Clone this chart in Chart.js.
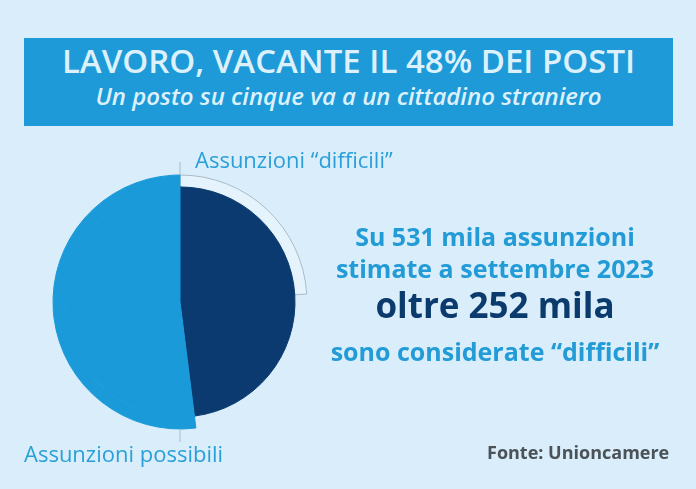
<!DOCTYPE html>
<html lang="it">
<head>
<meta charset="utf-8">
<title>Lavoro, vacante il 48% dei posti</title>
<script src="https://cdn.jsdelivr.net/npm/chart.js@4/dist/chart.umd.min.js"></script>
<style>
  html, body { margin: 0; padding: 0; }
  body {
    width: 696px; height: 489px; overflow: hidden; position: relative;
    background: #d9eefa; font-family: "Open Sans", sans-serif;
  }
  .banner {
    position: absolute; left: 24px; top: 38px; width: 649px; height: 88px;
    background: #1e9ad8; color: #dcf1fc; text-align: center;
  }
  .banner h1 { margin: 0; position: absolute; left: 0; right: 0; top: 3px; font-size: 33px; font-weight: 600; line-height: 40px; }
  .banner h2 { margin: 0; position: absolute; left: 0; right: 0; top: 43px; font-size: 24px; font-weight: 600; font-style: italic; line-height: 30px; }
  #pieWrap { position: absolute; left: 40px; top: 162px; width: 280px; height: 280px; }
  .label { position: absolute; color: #2b9fd8; font-size: 22px; font-weight: 400; white-space: nowrap; line-height: 30px; }
  .info { position: absolute; left: 315px; width: 360px; text-align: center; font-weight: 700; white-space: nowrap; }
  .info.blue { color: #229bd7; font-size: 25px; line-height: 30px; }
  .info.big { color: #0b3a6d; font-size: 35px; line-height: 40px; }
  .source { position: absolute; left: 487px; top: 439px; color: #4b5258; font-size: 18px; font-weight: 700; line-height: 26px; }
</style>
</head>
<body>
  <div class="banner">
    <h1>LAVORO, VACANTE IL 48% DEI POSTI</h1>
    <h2>Un posto su cinque va a un cittadino straniero</h2>
  </div>

  <div id="pieWrap"><canvas id="pie" width="280" height="280"></canvas></div>
  <div class="label" id="labelTop" style="left:195px; top:144px;"></div>
  <div class="label" id="labelBottom" style="left:24px; top:438px;"></div>

  <div class="info blue" style="top:221px;">Su 531 mila assunzioni</div>
  <div class="info blue" style="top:253px;">stimate a settembre 2023</div>
  <div class="info big" style="top:285px;">oltre 252 mila</div>
  <div class="info blue" style="top:336px;">sono considerate “difficili”</div>

  <div class="source">Fonte: Unioncamere</div>

<script>
  'use strict';

  // categories and their share of the 531k estimated hirings (%)
  const categories = ['Assunzioni “difficili”', 'Assunzioni possibili'];
  const shares = [48, 52];
  // the highlight bracket drawn around the "difficili" slice (% of circle)
  const bracketShare = 24;

  const colors = {
    difficult: '#0a3a70',
    possible: '#1b9ad9',
    bracketFill: '#e4f3fc',
    bracketLine: '#a9bbc6'
  };

  document.getElementById('labelTop').textContent = categories[0];
  document.getElementById('labelBottom').textContent = categories[1];

  // small leader lines from the pie edge to the two labels
  const leaderLines = {
    id: 'leaderLines',
    afterDatasetsDraw(chart) {
      const outer = chart.getDatasetMeta(0).data;
      if (!outer.length) return;
      const top = outer[0].getProps(['x', 'y', 'outerRadius', 'startAngle'], true);
      const ctx = chart.ctx;
      ctx.save();
      ctx.strokeStyle = colors.bracketLine;
      ctx.lineWidth = 1;
      const drawRadial = (angle, r0, r1) => {
        ctx.beginPath();
        ctx.moveTo(top.x + Math.cos(angle) * r0, top.y + Math.sin(angle) * r0);
        ctx.lineTo(top.x + Math.cos(angle) * r1, top.y + Math.sin(angle) * r1);
        ctx.stroke();
      };
      drawRadial(top.startAngle, top.outerRadius, top.outerRadius + 15);
      drawRadial(Math.PI / 2, top.outerRadius, top.outerRadius + 16);
      ctx.restore();
    }
  };

  new Chart(document.getElementById('pie').getContext('2d'), {
    type: 'pie',
    data: {
      labels: [categories[0], '', categories[1]],
      datasets: [
        {
          // outer band: bracket + the wider "possibili" slice
          data: [bracketShare, shares[0] - bracketShare, shares[1]],
          backgroundColor: [colors.bracketFill, 'rgba(0,0,0,0)', colors.possible],
          borderColor: [colors.bracketLine, 'rgba(0,0,0,0)', colors.possible],
          borderWidth: [1, 0, 1],
          weight: 12,
          order: 1
        },
        {
          data: shares,
          backgroundColor: [colors.difficult, colors.possible],
          borderColor: [colors.difficult, colors.possible],
          borderWidth: 1,
          weight: 115,
          order: 0
        }
      ]
    },
    options: {
      responsive: false,
      animation: false,
      events: [],
      radius: 127,
      cutout: 0,
      layout: { padding: 0 },
      plugins: {
        legend: { display: false },
        tooltip: { enabled: false }
      }
    },
    plugins: [leaderLines]
  });
</script>
</body>
</html>
